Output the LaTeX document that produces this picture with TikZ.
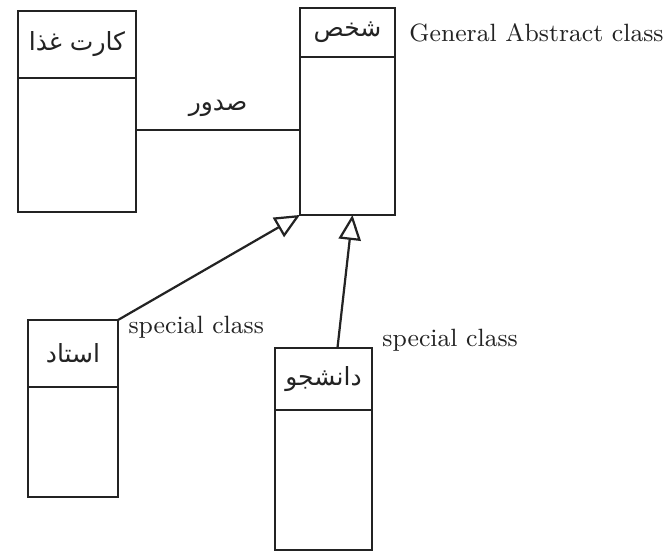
\documentclass[tikz,border=0pt]{standalone}
\usepackage{fontspec}
\usetikzlibrary{arrows.meta,positioning,calc}
\newfontfamily\farsi[Script=Arabic]{DejaVu Sans}
\TeXXeTstate=1
\newcommand{\fa}[1]{{\farsi\beginR #1\endR}}
\definecolor{Ink}{RGB}{35,35,35}

\begin{document}
\begin{tikzpicture}[x=0.36pt,y=-0.36pt,
  classhead/.style={draw=Ink,text=Ink,thick,outer sep=0pt,inner sep=1pt,font=\small},
  classbody/.style={draw=Ink,thick,outer sep=0pt},
  inherit/.style={draw=Ink,thick,-{Triangle[open,length=9pt,width=8pt]}},
  note/.style={text=Ink,font=\small,inner sep=0pt}]
  \useasboundingbox (0,0) rectangle (664,557);
  \node[classhead,anchor=north west,minimum width=42.5pt,minimum height=24.1pt] (kart) at (18,11) {\fa{کارت غذا}};
  \node[classbody,below=0pt of kart,minimum width=42.5pt,minimum height=48.2pt] (kartb) {};
  \node[classhead,anchor=north west,minimum width=34.2pt,minimum height=17.6pt] (shakhs) at (300,8) {\fa{شخص}};
  \node[classbody,below=0pt of shakhs,minimum width=34.2pt,minimum height=56.9pt] (shakhsb) {};
  \node[classhead,anchor=north west,minimum width=32.4pt,minimum height=24.1pt] (ostad) at (28,320) {\fa{استاد}};
  \node[classbody,below=0pt of ostad,minimum width=32.4pt,minimum height=39.6pt] (ostadb) {};
  \node[classhead,anchor=north west,minimum width=34.9pt,minimum height=22.3pt] (daneshju) at (275,348) {\fa{دانشجو}};
  \node[classbody,below=0pt of daneshju,minimum width=34.9pt,minimum height=50.4pt] (daneshjub) {};
  \coordinate (assoc) at (0,130);
  \draw[Ink,thick] (kartb.east |- assoc) -- (shakhsb.west |- assoc)
    node[midway,above=1pt,text=Ink,font=\small] (sodur) {\fa{صدور}};
  \draw[inherit] (ostad.north east) -- (shakhsb.south west);
  \draw[inherit] ($(daneshju.north)+(14,0)$) -- ($(shakhsb.south)+(5,0)$);
  \node[note,anchor=west,right=5pt of shakhs] (general) {General Abstract class};
  \node[note,anchor=west] (special1) at ($(ostad.north east)+(10,7)$) {special class};
  \node[note,anchor=west] (special2) at ($(daneshju.north east)+(10,-8)$) {special class};
\end{tikzpicture}
\end{document}
